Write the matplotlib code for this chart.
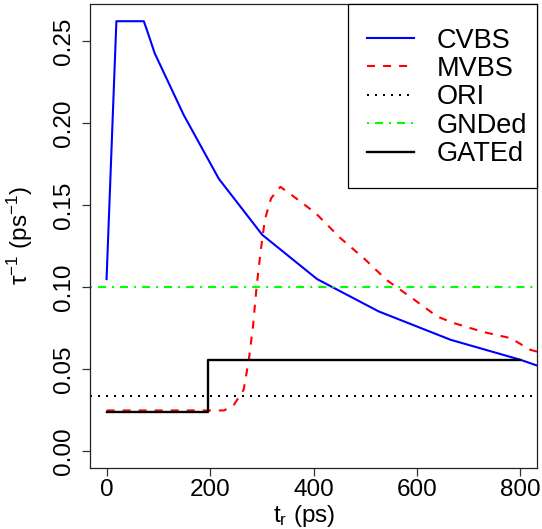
import numpy as np
import matplotlib
matplotlib.use("Agg")
import matplotlib.pyplot as plt
from matplotlib.patches import Rectangle

plt.rcParams["font.family"] = ["Liberation Sans", "DejaVu Sans"]
plt.rcParams["mathtext.fontset"] = "custom"
plt.rcParams["mathtext.rm"] = "Liberation Sans"
plt.rcParams["mathtext.it"] = "Liberation Sans"
plt.rcParams["mathtext.sf"] = "Liberation Sans"

# CVBS curve
cvbs_t = [0, 19, 72, 79, 93, 149, 217, 301, 407, 526, 665, 800, 832]
cvbs_v = [0.1047, 0.262, 0.262, 0.2557, 0.2425, 0.2049, 0.1659, 0.1317,
          0.1047, 0.0850, 0.0677, 0.0555, 0.0520]

# MVBS curve
mvbs_t = [0, 100, 227, 246, 265, 275, 283, 290, 298, 306, 318, 336, 362,
          404, 452, 497, 542, 591, 639, 671, 729, 781, 819, 832]
mvbs_v = [0.0246, 0.0246, 0.0246, 0.028, 0.0372, 0.0555, 0.0758, 0.100,
          0.122, 0.141, 0.154, 0.161, 0.155, 0.145, 0.1297, 0.1175, 0.104,
          0.093, 0.0819, 0.0779, 0.0724, 0.0687, 0.0616, 0.0605]

ori_v = 0.0335
gnded_v = 0.100

# GATEd step
gated_t = [0, 197, 197, 800]
gated_v = [0.0234, 0.0234, 0.0555, 0.0555]

xticks = [0, 200, 400, 600, 800]
yticks = [0.00, 0.05, 0.10, 0.15, 0.20, 0.25]

fs = 17.5
leg_fs = 19.5

fig = plt.figure(figsize=(5.42, 5.29), dpi=100)
ax = fig.add_axes((90 / 542, 1 - 468 / 529, 447 / 542, 464 / 529))

lw = 1.5
ax.plot(cvbs_t, cvbs_v, color="#0000ff", lw=lw, label="CVBS")
ax.plot(mvbs_t, mvbs_v, color="#ff0000", lw=lw, ls=(0, (3.85, 3.85)), label="MVBS")
ax.axhline(ori_v, color="black", lw=lw, ls=(0, (0.96, 2.88)), label="ORI")
ax.axhline(gnded_v, color="#00ff00", lw=lw, ls=(0, (0.96, 2.88, 3.85, 2.88)), label="GNDed")
ax.plot(gated_t, gated_v, color="black", lw=1.7, label="GATEd")

ax.set_xlim(-32, 832)
ax.set_ylim(-0.0105, 0.2725)
ax.set_xticks(xticks)
ax.set_xticklabels([str(t) for t in xticks])
ax.set_yticks(yticks)
ax.set_yticklabels([f"{v:.2f}" for v in yticks], rotation=90, va="center")

ax.tick_params(axis="both", direction="out", length=6, width=0.9, labelsize=fs, color="#333333")
ax.tick_params(axis="x", pad=2)
ax.tick_params(axis="y", pad=5)
for s in ax.spines.values():
    s.set_linewidth(0.9)
    s.set_color("#222222")

ax.set_xlabel("t$_{\\mathrm{r}}$ (ps)", fontsize=fs)
ax.set_ylabel("τ$^{\\mathrm{-1}}$ (ps$^{\\mathrm{-1}}$)", fontsize=fs)
ax.xaxis.set_label_coords(0.48, -0.075)
ax.yaxis.set_label_coords(-0.123, 0.5)

# legend box drawn by hand so the padding matches the R-style legend
box = Rectangle((0.577, 0.603), 0.423, 0.397, transform=ax.transAxes,
                facecolor="white", edgecolor="black", lw=0.9, zorder=4.9,
                clip_on=False)
ax.add_patch(box)
leg = ax.legend(loc="upper right", bbox_to_anchor=(1 + 4 / 447, 1 - 10 / 464),
                borderaxespad=0, frameon=False, fontsize=leg_fs,
                handlelength=1.73, handletextpad=0.85, borderpad=0.5,
                labelspacing=0.09)

fig.savefig("out.png", dpi=100)
